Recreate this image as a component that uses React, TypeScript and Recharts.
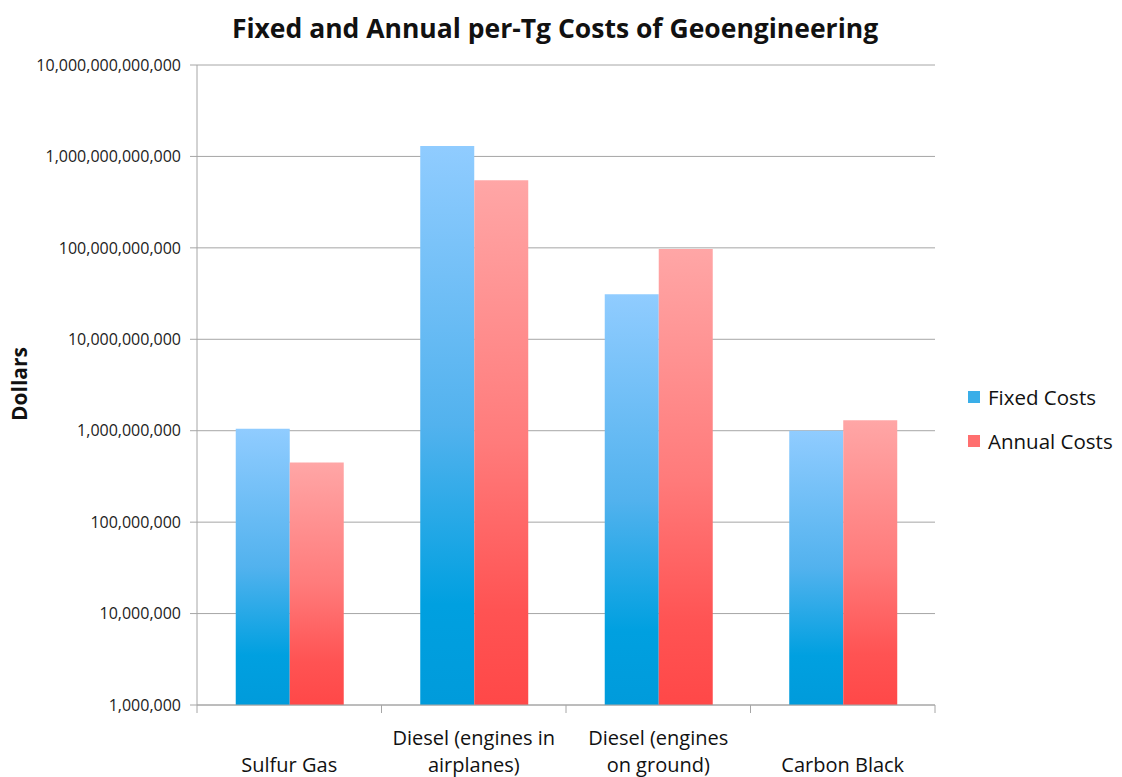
import { BarChart, Bar, XAxis, YAxis, CartesianGrid, Legend } from 'recharts';

const categories = ['Sulfur Gas', 'Diesel (engines in\nairplanes)', 'Diesel (engines\non ground)', 'Carbon Black'];
const fixedCosts = [1.05e9, 1.3e12, 3.1e10, 1.0e9];
const annualCosts = [4.5e8, 5.5e11, 9.7e10, 1.3e9];
const yTicks = [1e6, 1e7, 1e8, 1e9, 1e10, 1e11, 1e12, 1e13];

const data = categories.map((name, i) => ({ name, fixed: fixedCosts[i], annual: annualCosts[i] }));

const FONT = '"Open Sans", "Liberation Sans", sans-serif';
const AXIS = '#a6a6a6';
const PLOT_LEFT = 197;
const PLOT_RIGHT = 935;
const PLOT_BOTTOM = 705;
const HALF_BAND = (PLOT_RIGHT - PLOT_LEFT) / categories.length / 2;

function CategoryTick(props: any) {
  const { x, payload, index } = props;
  const lines = String(payload.value).split('\n');
  const lastBaseline = 772;
  return (
    <g>
      <line x1={x - HALF_BAND} x2={x - HALF_BAND} y1={PLOT_BOTTOM} y2={PLOT_BOTTOM + 8} stroke={AXIS} />
      {index === categories.length - 1 && (
        <line x1={x + HALF_BAND} x2={x + HALF_BAND} y1={PLOT_BOTTOM} y2={PLOT_BOTTOM + 8} stroke={AXIS} />
      )}
      {lines.map((l, i) => (
        <text
          key={i}
          x={x}
          y={lastBaseline - (lines.length - 1 - i) * 27}
          textAnchor="middle"
          fontSize={20}
          fill="#111"
          fontFamily={FONT}
        >
          {l}
        </text>
      ))}
    </g>
  );
}

function LegendContent() {
  const items = [
    { label: 'Fixed Costs', color: '#3aaee8' },
    { label: 'Annual Costs', color: '#ff6f6f' },
  ];
  return (
    <div style={{ fontFamily: FONT }}>
      {items.map((it) => (
        <div key={it.label} style={{ display: 'flex', alignItems: 'center', height: 44 }}>
          <span style={{ width: 12, height: 12, background: it.color, marginRight: 8, display: 'inline-block' }} />
          <span style={{ fontSize: 20.5, color: '#111' }}>{it.label}</span>
        </div>
      ))}
    </div>
  );
}

export default function App() {
  return (
    <div style={{ position: 'absolute', left: 0, top: 0, background: '#fff' }}>
      <BarChart
        width={1122}
        height={777}
        data={data}
        margin={{ top: 65, right: 37, bottom: 0, left: 0 }}
        barCategoryGap="21%"
        barGap={0}
      >
        <defs>
          <linearGradient id="gradFixed" x1="0" y1="0" x2="0" y2="1">
            <stop offset="0%" stopColor="#90ccff" />
            <stop offset="50%" stopColor="#52b2ee" />
            <stop offset="82%" stopColor="#00a0e0" />
            <stop offset="100%" stopColor="#009bdb" />
          </linearGradient>
          <linearGradient id="gradAnnual" x1="0" y1="0" x2="0" y2="1">
            <stop offset="0%" stopColor="#ffa6a6" />
            <stop offset="50%" stopColor="#ff7b7b" />
            <stop offset="82%" stopColor="#ff5353" />
            <stop offset="100%" stopColor="#ff4848" />
          </linearGradient>
        </defs>
        <text x={555} y={38} textAnchor="middle" fontSize={26.5} fontWeight="bold" fontFamily={FONT} fill="#111">
          Fixed and Annual per-Tg Costs of Geoengineering
        </text>
        <CartesianGrid stroke={AXIS} vertical={false} />
        <XAxis
          dataKey="name"
          stroke={AXIS}
          tickLine={false}
          tick={<CategoryTick />}
          interval={0}
          height={72}
        />
        <YAxis
          scale="log"
          domain={[1e6, 1e13]}
          ticks={yTicks}
          allowDataOverflow
          width={197}
          stroke={AXIS}
          tickSize={7}
          tickMargin={9}
          tick={{ fill: '#222', fontSize: 16, fontFamily: FONT }}
          tickFormatter={(v: number) => v.toLocaleString('en-US')}
          label={() => (
            <text
              x={27}
              y={384}
              transform="rotate(-90 27 384)"
              textAnchor="middle"
              fontSize={21}
              fontWeight="bold"
              fontFamily={FONT}
              fill="#111"
            >
              Dollars
            </text>
          )}
        />
        <Legend
          layout="vertical"
          align="right"
          verticalAlign="middle"
          content={<LegendContent />}
          wrapperStyle={{ width: 150, left: 968, top: 375 }}
        />
        <Bar dataKey="fixed" name="Fixed Costs" fill="url(#gradFixed)" isAnimationActive={false} />
        <Bar dataKey="annual" name="Annual Costs" fill="url(#gradAnnual)" isAnimationActive={false} />
      </BarChart>
    </div>
  );
}
